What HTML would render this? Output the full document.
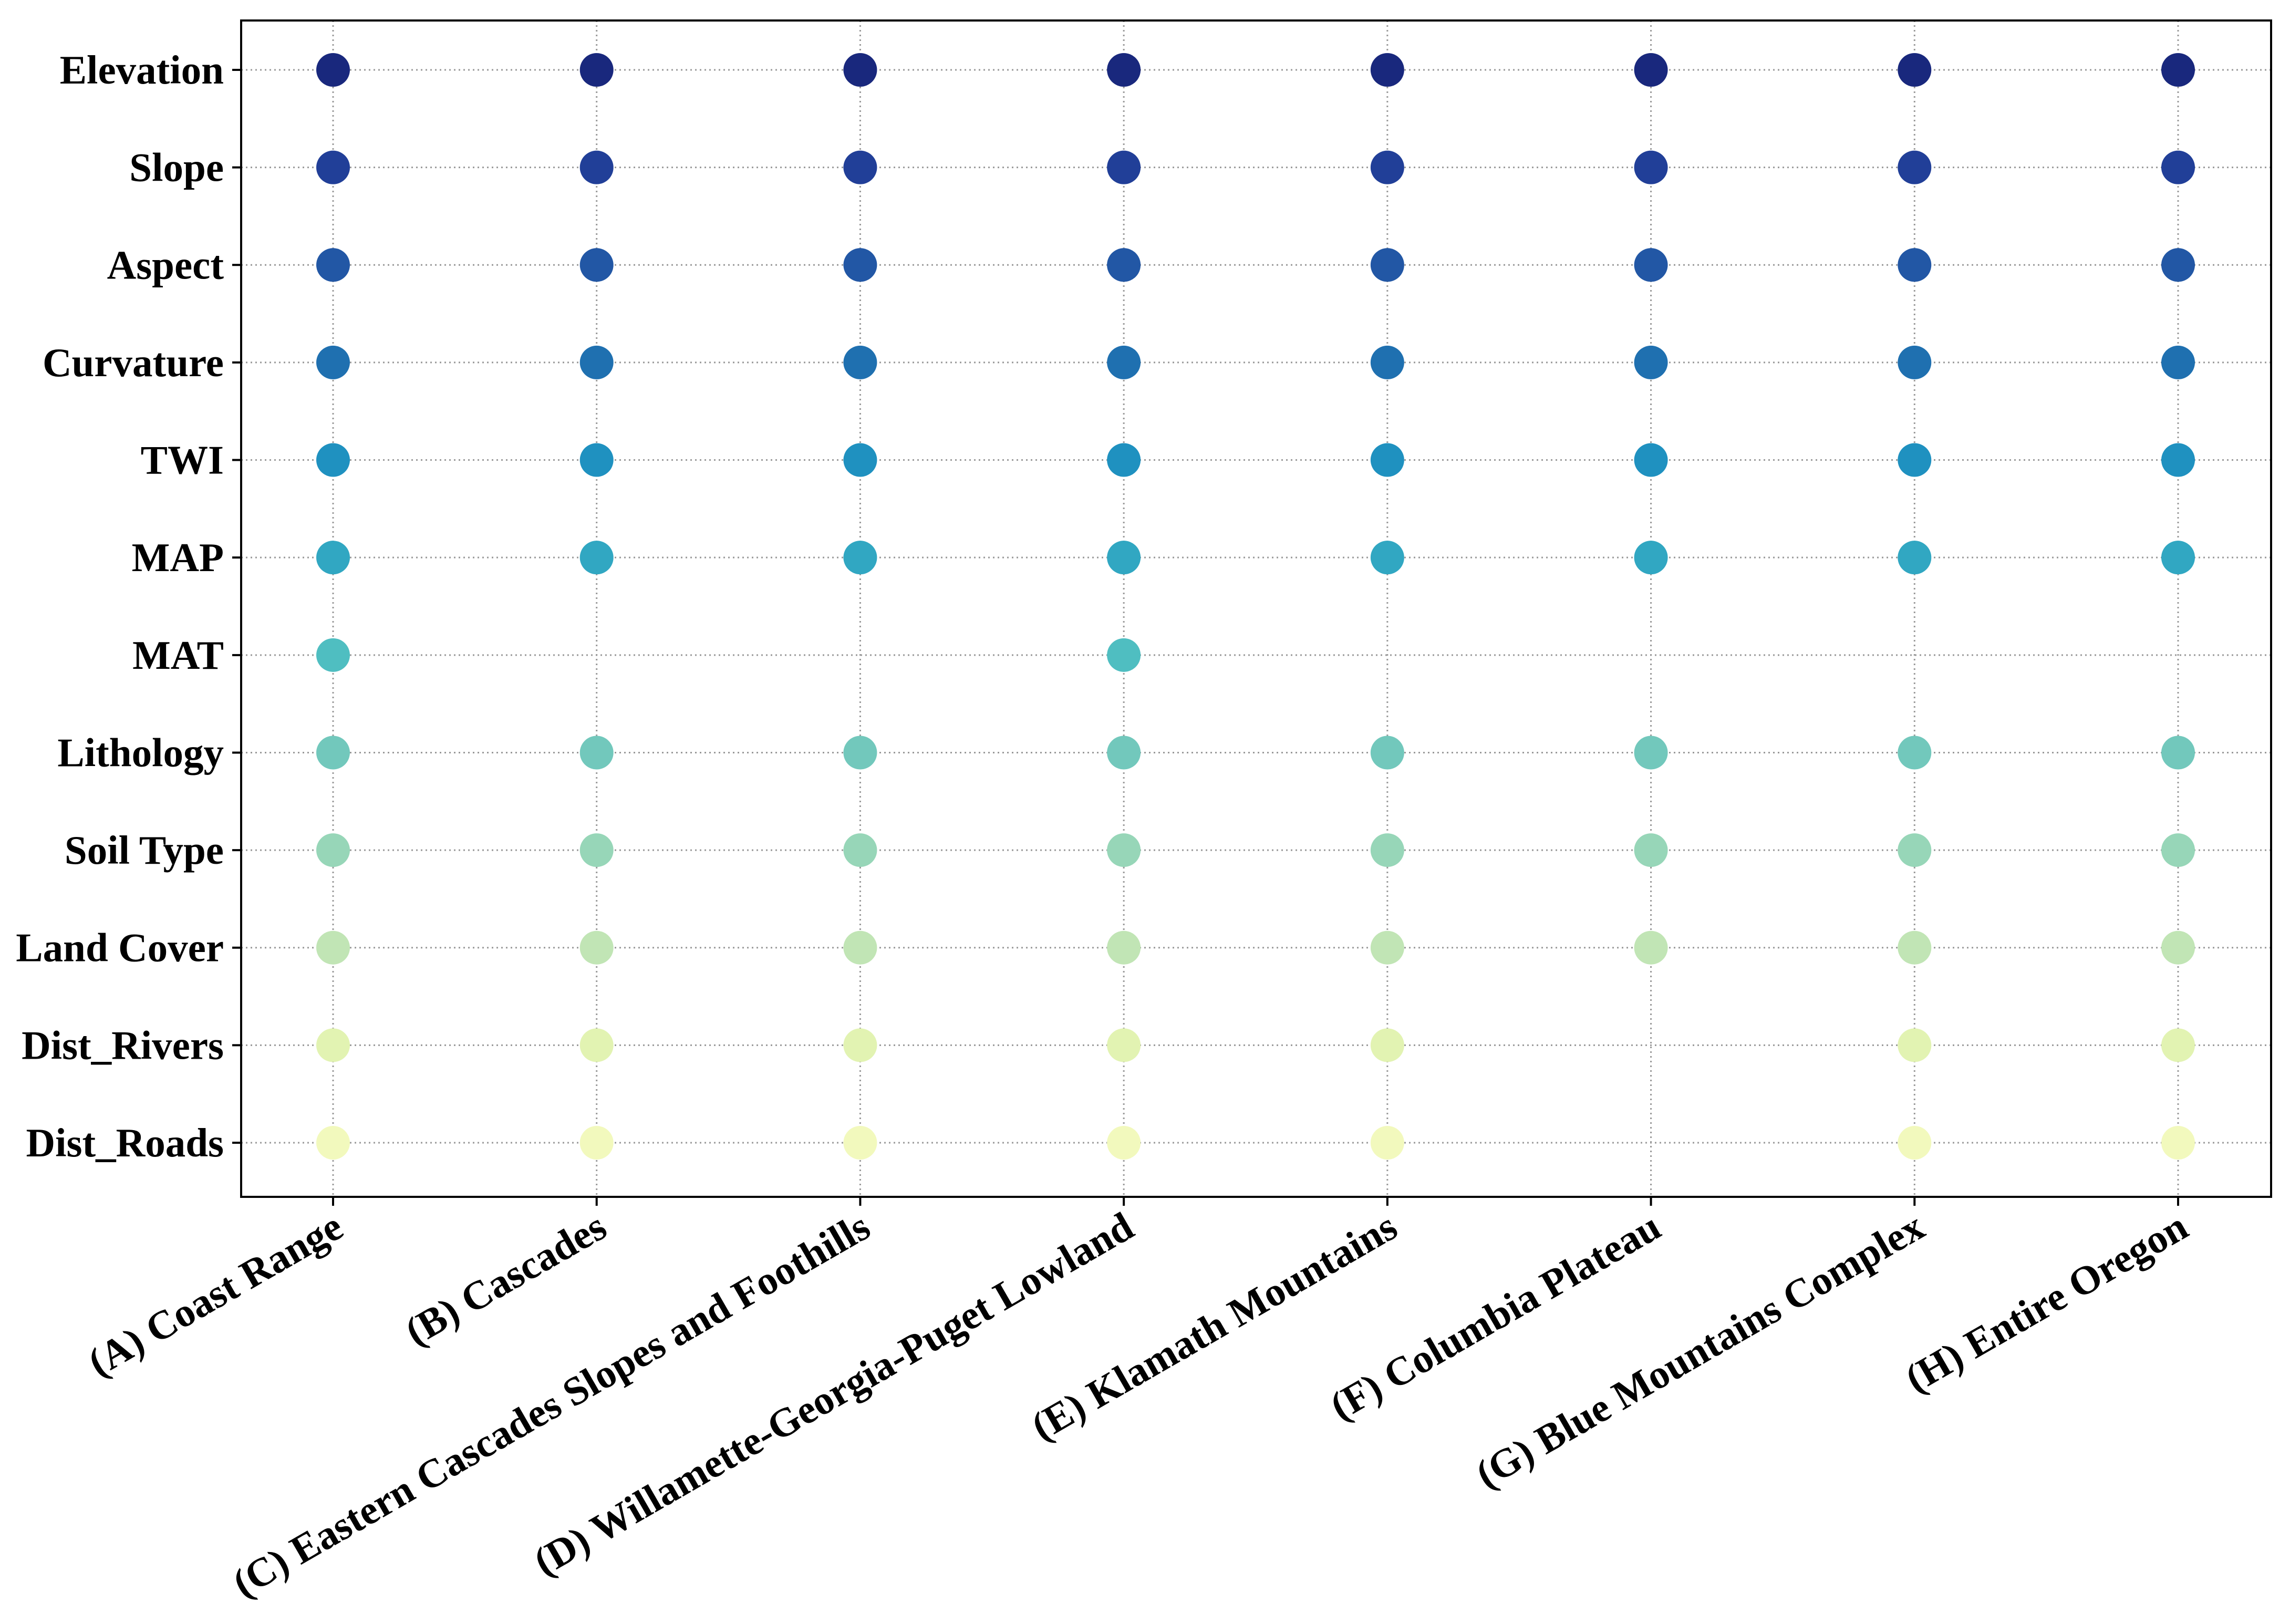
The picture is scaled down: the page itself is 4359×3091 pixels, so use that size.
<!DOCTYPE html>
<html><head><meta charset="utf-8"><style>
html,body{margin:0;padding:0;background:#fff;}
svg{display:block;font-family:"Liberation Serif","DejaVu Serif",serif;font-weight:bold;}
</style></head><body>
<svg id="chart" width="4359" height="3091" viewBox="0 0 4359 3091" xmlns="http://www.w3.org/2000/svg">
<rect width="4359" height="3091" fill="#fff"/>
<g id="grid"></g><g id="dots"></g><g id="axes"></g>
</svg>
<script>
const regions = ["(A) Coast Range","(B) Cascades","(C) Eastern Cascades Slopes and Foothills","(D) Willamette-Georgia-Puget Lowland","(E) Klamath Mountains","(F) Columbia Plateau","(G) Blue Mountains Complex","(H) Entire Oregon"];
const factors = ["Elevation","Slope","Aspect","Curvature","TWI","MAP","MAT","Lithology","Soil Type","Land Cover","Dist_Rivers","Dist_Roads"];
const factorColors = ["#19287d","#213f98","#2257a5","#1f70b0","#1f91c0","#31a7c2","#4fbec1","#72c8bc","#97d6b8","#c1e5b5","#e2f3b2","#f2f9bd"];
// presence[factor][region] : 1 = selected
const presence = [
 [1,1,1,1,1,1,1,1],
 [1,1,1,1,1,1,1,1],
 [1,1,1,1,1,1,1,1],
 [1,1,1,1,1,1,1,1],
 [1,1,1,1,1,1,1,1],
 [1,1,1,1,1,1,1,1],
 [1,0,0,1,0,0,0,0],
 [1,1,1,1,1,1,1,1],
 [1,1,1,1,1,1,1,1],
 [1,1,1,1,1,1,1,1],
 [1,1,1,1,1,0,1,1],
 [1,1,1,1,1,0,1,1]
];
const NS="http://www.w3.org/2000/svg";
const L=459,R=4323,T=39,B=2278;
const x0=634,xStep=(4146-634)/7, y0=133,yStep=(2175-133)/11;
const xs=i=>x0+i*xStep, ys=j=>y0+j*yStep;
function mk(tag,attrs,parent){const e=document.createElementNS(NS,tag);for(const k in attrs)e.setAttribute(k,attrs[k]);parent.appendChild(e);return e;}
const grid=document.getElementById('grid'),dots=document.getElementById('dots'),axes=document.getElementById('axes');
factors.forEach((f,j)=>{
 const g=mk('line',{x1:L,x2:R,y1:ys(j),y2:ys(j),stroke:'#999','stroke-width':3,'stroke-dasharray':'3 6'},grid);
 
 
 const t=mk('line',{x1:L-17,x2:L,y1:ys(j),y2:ys(j),stroke:'#000','stroke-width':4},axes);
 
 
 const tx=mk('text',{x:L-33,y:ys(j)+26,'text-anchor':'end','font-size':77,fill:'#000'},axes);
 tx.textContent=f;
 
 
});
regions.forEach((r,i)=>{
 const g=mk('line',{x1:xs(i),x2:xs(i),y1:T,y2:B,stroke:'#999','stroke-width':3,'stroke-dasharray':'3 6'},grid);
 
 
 const t=mk('line',{x1:xs(i),x2:xs(i),y1:B,y2:B+17,stroke:'#000','stroke-width':4},axes);
 
 
 const ax=xs(i)+24, ay=B+72;
 const tx=mk('text',{x:ax,y:ay,'text-anchor':'end','font-size':77,fill:'#000',transform:`rotate(-30 ${ax} ${ay})`},axes);
 tx.textContent=r;
 
 
});
presence.forEach((row,j)=>row.forEach((v,i)=>{
 if(!v)return;
 const c=mk('circle',{cx:xs(i),cy:ys(j),r:32,fill:factorColors[j]},dots);
 
 
}));
const fr=mk('rect',{x:L,y:T,width:R-L,height:B-T,fill:'none',stroke:'#000','stroke-width':4},axes);


</script>
</body></html>
